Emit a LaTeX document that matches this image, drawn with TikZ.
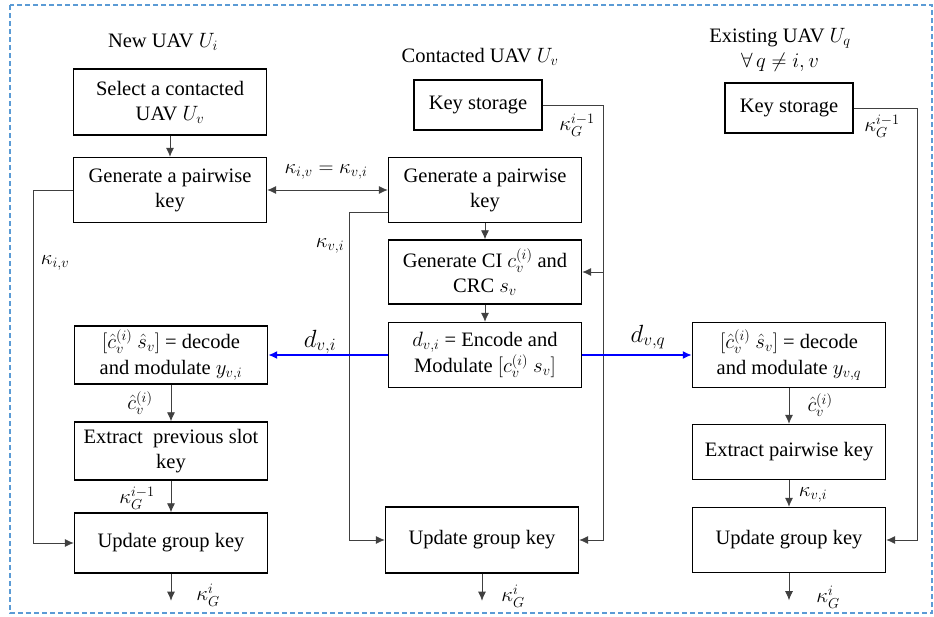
\documentclass[tikz,border=0pt]{standalone}
\usepackage{fontspec}
\setmainfont{Liberation Serif}
\usetikzlibrary{arrows.meta}
\definecolor{frameblue}{RGB}{91,155,213}
\begin{document}
\begin{tikzpicture}[
x=1pt,y=-1pt,
>={Latex[length=9pt,width=8pt]},
font=\fontsize{20.5}{25}\selectfont,
box/.style={
	rectangle,minimum width=193pt,inner sep=2pt,align=center,
	draw=black,line width=1.4pt},
keybox/.style={box,minimum width=128pt,minimum height=50pt},
conn/.style={draw=black!75,line width=0.8pt},
radio/.style={draw=blue,line width=1.6pt},
lbl/.style={inner sep=0pt},
biglbl/.style={lbl,font=\fontsize{24}{28}\selectfont}
]
% frame
\draw[frameblue,line width=1.2pt,dash pattern=on 5pt off 3pt] (10,5) rectangle (932,613);
\useasboundingbox (0,0) rectangle (934,616);

% titles
\node[lbl] (tNew) at (163,42) {New UAV $U_i$};
\node[lbl] (tCon) at (480,57) {Contacted UAV $U_v$};
\node[lbl,align=center] (tExi) at (780,50) {Existing UAV $U_q$\\$\forall\, q \neq i, v$};

% new UAV
\node[box,minimum height=66pt] (sel) at (170,102) {Select a contacted\\UAV $U_v$};
\node[box,minimum height=65pt] (genL) at (170,190) {Generate a pairwise\\key};
\node[box,minimum height=58pt] (decL) at (171,355) {$[\hat c_v^{(i)}\ \hat s_v]$ = decode\\[1pt]and modulate $y_{v,i}$};
\node[box,minimum height=58pt] (extL) at (171,451) {Extract\ \ previous slot\\key};
\node[box,minimum height=60pt] (updL) at (171,543) {Update group key};

% contacted UAV
\node[keybox] (ksM) at (478,105) {Key storage};
\node[box,minimum height=65pt] (genM) at (485,190) {Generate a pairwise\\key};
\node[box,minimum height=64pt] (ciM) at (485,272) {Generate CI $c_v^{(i)}$ and\\CRC $s_v$};
\node[box,minimum height=65pt] (encM) at (485,355) {$d_{v,i}$ = Encode and\\[1pt]Modulate $[c_v^{(i)}\ s_v]$};
\node[box,minimum height=66pt] (updM) at (482,540) {Update group key};

% existing UAV
\node[keybox] (ksR) at (789,108) {Key storage};
\node[box,minimum height=65pt] (decR) at (789,355) {$[\hat c_v^{(i)}\ \hat s_v]$ = decode\\[1pt]and modulate $y_{v,q}$};
\node[box,minimum height=55pt] (extR) at (789,452) {Extract pairwise key};
\node[box,minimum height=65pt] (updR) at (789,540) {Update group key};

\coordinate (busM) at (603,0);
\coordinate (busR) at (917,0);

% connectors
\draw[conn,->] (sel) -- (genL);
\draw[conn,->] (genL.west) -- ++(-39,0) |- (updL.west);
\draw[conn,<->] (genL.east) -- (genM.west);
\draw[conn,->] (decL) -- (extL);
\draw[conn,->] (extL) -- (updL);
\draw[conn,->] (updL.south) -- ++(0,27) coordinate (oL);

\draw[conn,->] (ksM.east) -| (busM |- updM.east) -- (updM.east);
\draw[conn,->] (busM |- ciM.east) -- (ciM.east);
\draw[conn,->] ([yshift=-22pt]genM.west) -- ++(-38,0) |- (updM.west);
\draw[conn,->] (genM) -- (ciM);
\draw[conn,->] (ciM) -- (encM);
\draw[conn,->] (updM.south) -- ++(0,27) coordinate (oM);

\draw[radio,->] (encM.west) -- (decL.east);
\draw[radio,->] (encM.east) -- (decR.west);

\draw[conn,->] (ksR.east) -| (busR |- updR.east) -- (updR.east);
\draw[conn,->] (decR) -- (extR);
\draw[conn,->] (extR) -- (updR);
\draw[conn,->] (updR.south) -- ++(0,27) coordinate (oR);

% labels
\node[lbl] (kIV) at (55,263) {$\kappa_{i,v}$};
\node[lbl] (kEq) at (326,172) {$\kappa_{i,v}=\kappa_{v,i}$};
\node[lbl] (kVI) at (330,246) {$\kappa_{v,i}$};
\node[lbl] (kGM) at (577,125) {$\kappa_G^{i-1}$};
\node[lbl] (kGR) at (882,126) {$\kappa_G^{i-1}$};
\node[biglbl] (dVI) at (320,342) {$d_{v,i}$};
\node[biglbl] (dVQ) at (648,337) {$d_{v,q}$};
\node[lbl] (cL) at (140,403) {$\hat c_v^{(i)}$};
\node[lbl] (kGL) at (137,498) {$\kappa_G^{i-1}$};
\node[lbl] (cR) at (820,405) {$\hat c_v^{(i)}$};
\node[lbl] (kVR) at (813,495) {$\kappa_{v,i}$};
\node[lbl] (outL) at (208,595) {$\kappa_G^i$};
\node[lbl] (outM) at (513,596) {$\kappa_G^i$};
\node[lbl] (outR) at (828,597) {$\kappa_G^i$};

\end{tikzpicture}
\end{document}
